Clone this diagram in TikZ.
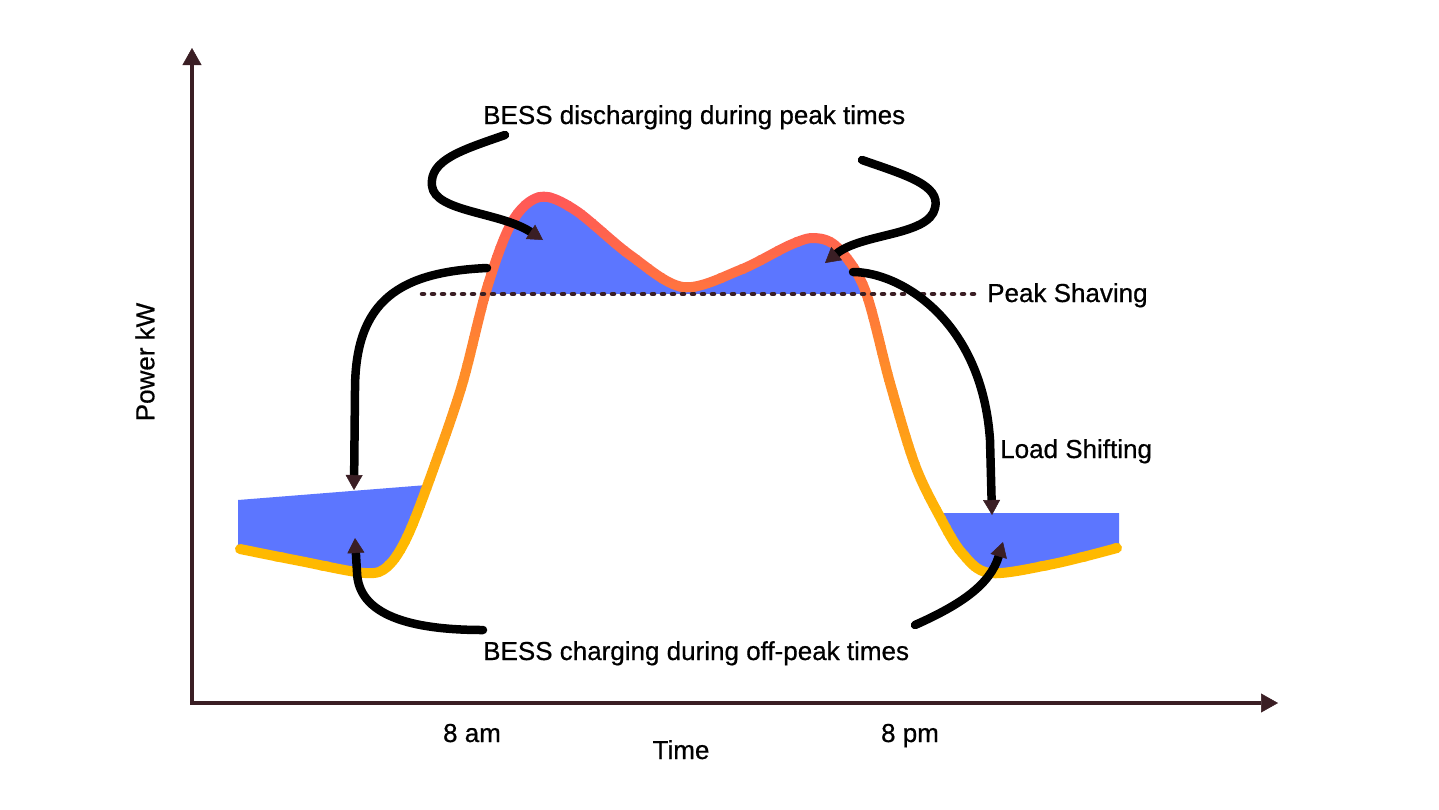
\documentclass[tikz,border=0pt]{standalone}
\usepackage{fontspec}
\setmainfont[FakeBold=0.6]{Liberation Sans}
\usetikzlibrary{arrows.meta}
\definecolor{bessblue}{RGB}{92,118,255}
\definecolor{axiscol}{RGB}{58,30,36}
\definecolor{cTop}{RGB}{255,88,88}
\definecolor{cBot}{RGB}{255,185,0}
\def\curveplot{-- plot[smooth,tension=0.55] coordinates {(240,549) (300,561) (365,573) (388,566) (408,535) (433,470) (462,385) (487,288) (512,222) (540,197) (575,210) (630,255) (683,287) (740,270) (790,245) (815,238) (838,248) (865,290) (890,383) (915,465) (940,517) (962,553) (990,573) (1053,564) (1117,548)}}
\tikzset{
  lbl/.style={font=\fontsize{26}{30}\selectfont, inner sep=0pt, text=black},
  axisline/.style={draw=axiscol, line width=4.5, line join=miter},
  conn/.style={draw=black, line width=8.5, line cap=round,
    -{Triangle[length=15pt,width=17pt,line width=0.5pt,color=axiscol]}},
  loadcurve/.style={line width=10, line cap=round, line join=round},
  peakline/.style={draw=axiscol, line width=4.5, line cap=round, dash pattern=on 2pt off 8pt}
}
\begin{document}
\begin{tikzpicture}[x=1pt,y=-1pt]
\useasboundingbox (0,0) rectangle (1439,809);
\fill[white] (0,0) rectangle (1439,809);
% axes
\coordinate (ytip) at (192,48);
\coordinate (orig) at (192,703);
\coordinate (xtip) at (1278,703);
\draw[axisline, {Triangle[length=17pt,width=19pt,line width=0.5pt]}-{Triangle[length=17pt,width=19pt,line width=0.5pt]}] (ytip) -- (orig) -- (xtip);
% blue fills
\begin{scope}
  \clip (0,0) rectangle (1439,293);
  \fill[bessblue] (237,549) \curveplot -- (1120,548) -- (1120,800) -- (237,800) -- cycle;
\end{scope}
\begin{scope}
  \clip (238,500) -- (427,485) -- (445,484) -- (445,600) -- (238,600) -- cycle;
  \fill[bessblue] (237,549) \curveplot -- (1120,548) -- (1120,0) -- (237,0) -- cycle;
\end{scope}
\begin{scope}
  \clip (930,513) rectangle (1119,600);
  \fill[bessblue] (237,549) \curveplot -- (1120,548) -- (1120,0) -- (237,0) -- cycle;
\end{scope}
% gradient load curve
\foreach \i in {0,...,44}{
  \pgfmathsetmacro{\ya}{183+9*\i}
  \pgfmathsetmacro{\yb}{\ya+9.6}
  \pgfmathsetmacro{\p}{min(100,max(0,(\ya+4.5-195)/330*100))}
  \colorlet{cc}{cBot!\p!cTop}
  \begin{scope}
    \clip (0,\ya) rectangle (1439,\yb);
    \draw[loadcurve, draw=cc] (240,549) \curveplot;
  \end{scope}
}
% peak shaving line
\coordinate (ps1) at (422,294);
\coordinate (ps2) at (975,294);
\draw[peakline] (ps1) -- (ps2);
% connectors
\coordinate (c1s) at (505,135);
\coordinate (c1m) at (432,186);
\coordinate (c1e) at (543,240);
\draw[conn] (c1s) .. controls (462,150) and (429,160) .. (c1m) .. controls (435,212) and (500,212) .. (c1e);
\coordinate (c2s) at (862,160);
\coordinate (c2m) at (935,208);
\coordinate (c2e) at (825,263);
\draw[conn] (c2s) .. controls (905,175) and (941,185) .. (c2m) .. controls (929,236) and (862,233) .. (c2e);
\coordinate (c3s) at (487,268);
\coordinate (c3m) at (355,390);
\coordinate (c3e) at (354,490);
\draw[conn] (c3s) .. controls (400,272) and (355,300) .. (c3m) -- (c3e);
\coordinate (c4s) at (853,272);
\coordinate (c4m) at (990,440);
\coordinate (c4e) at (992,515);
\draw[conn] (c4s) .. controls (900,272) and (982,320) .. (c4m) -- (c4e);
\coordinate (c5s) at (483,630);
\coordinate (c5m) at (357,572);
\coordinate (c5e) at (355,538);
\draw[conn] (c5s) .. controls (410,630) and (358,615) .. (c5m) -- (c5e);
\coordinate (c6s) at (915,625);
\coordinate (c6e) at (1003,542);
\draw[conn] (c6s) .. controls (960,605) and (990,585) .. (c6e);
% labels
\node[lbl, anchor=base west] (t1) at (483,124) {BESS discharging during peak times};
\node[lbl, anchor=base west] (t2) at (987,302) {Peak Shaving};
\node[lbl, anchor=base west] (t3) at (1000,458) {Load Shifting};
\node[lbl, anchor=base west] (t4) at (483,660) {BESS charging during off-peak times};
\node[lbl, anchor=base] (t5) at (472,742) {8 am};
\node[lbl, anchor=base] (t6) at (910,742) {8 pm};
\node[lbl, anchor=base] (t7) at (681,759) {Time};
\node[lbl, rotate=90] (t8) at (145,362) {Power kW};
\end{tikzpicture}
\end{document}
